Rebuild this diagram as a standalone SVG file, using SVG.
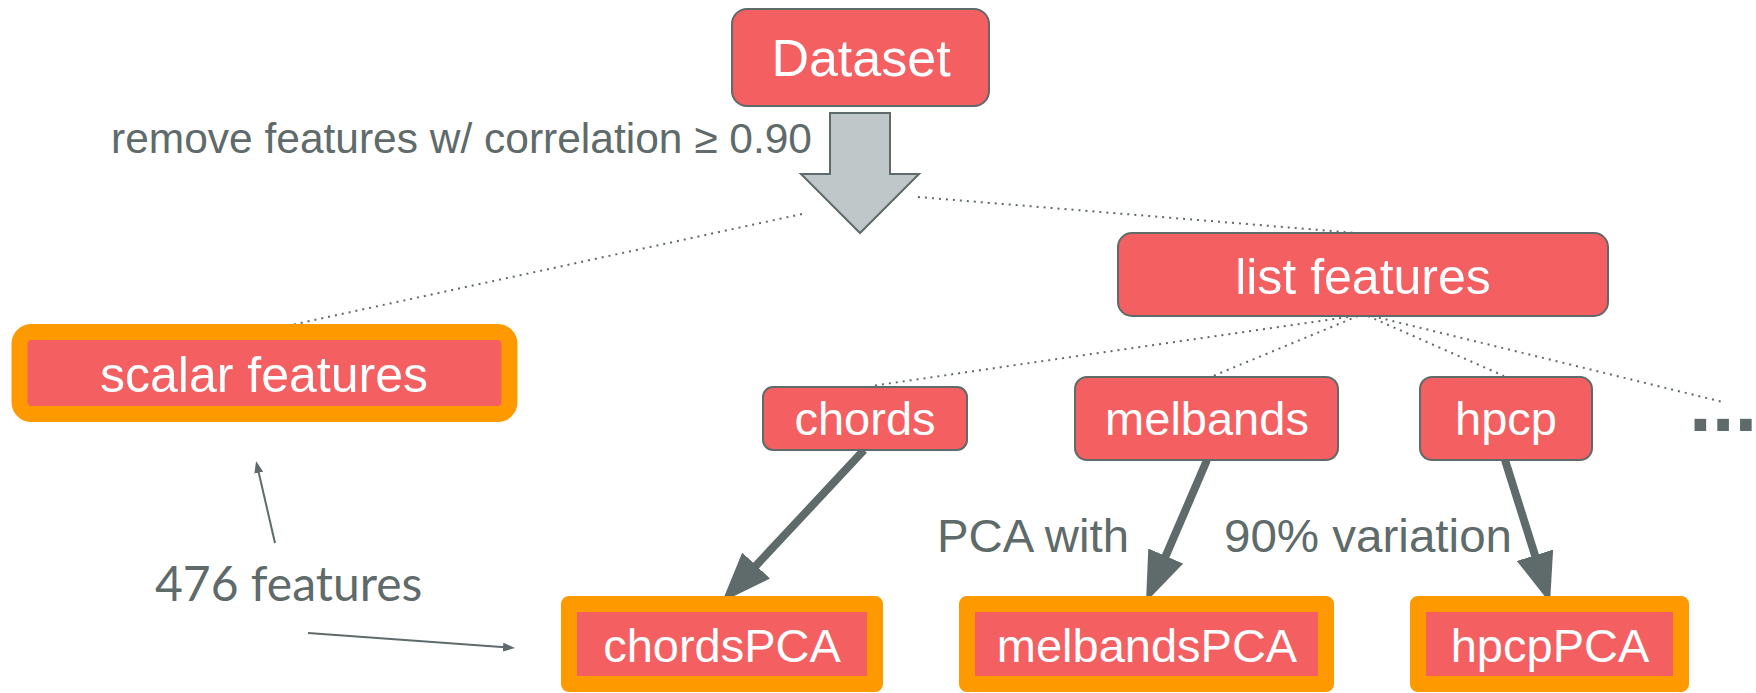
<svg xmlns="http://www.w3.org/2000/svg" width="1756" height="693" viewBox="0 0 1756 693">
<style>
.node{fill:#f45f61;stroke:#5f6a6a;stroke-width:2}
.hl{fill:#f45f61;stroke:#ff9900;stroke-width:16;stroke-linejoin:round}
.lbl{font-family:"Liberation Sans",Arial,sans-serif;fill:#ffffff;text-anchor:middle}
.note{font-family:"Liberation Sans",Arial,sans-serif;fill:#5f6a6a}
.dot{stroke:#5f6a6a;stroke-width:2;stroke-dasharray:2 5;fill:none}
.thick{stroke:#5f6a6a;stroke-width:8;fill:none;marker-end:url(#big)}
.thin{stroke:#5f6a6a;stroke-width:2;fill:none;marker-end:url(#small)}
</style>
<defs>
<marker id="big" markerUnits="userSpaceOnUse" markerWidth="50" markerHeight="38" viewBox="0 0 50 38" refX="10" refY="19" orient="auto"><path d="M0,0 L50,19 L0,38 Z" fill="#5f6a6a"/></marker>
<marker id="small" markerUnits="userSpaceOnUse" markerWidth="12" markerHeight="9" viewBox="0 0 12 9" refX="2" refY="4.5" orient="auto"><path d="M0,0 L12,4.5 L0,9 Z" fill="#5f6a6a"/></marker>
</defs>
<rect width="1756" height="693" fill="#ffffff"/>
<g id="connectors">
<line class="dot" x1="802" y1="214" x2="268" y2="330"/>
<line class="dot" x1="918" y1="197" x2="1356" y2="233"/>
<line class="dot" x1="1355" y1="316" x2="871" y2="386"/>
<line class="dot" x1="1358" y1="316" x2="1213" y2="376"/>
<line class="dot" x1="1368" y1="316" x2="1504" y2="376"/>
<line class="dot" x1="1372" y1="316" x2="1723" y2="402"/>
<path d="M830,113 L890,113 L890,174 L919,174 L860,233 L801,174 L830,174 Z" fill="#c0c7c9" stroke="#5f6a6a" stroke-width="2" stroke-linejoin="miter"/>
<line class="thick" x1="864" y1="450" x2="749.3" y2="572.8"/>
<line class="thick" x1="1207" y1="460" x2="1161.8" y2="565.2"/>
<line class="thick" x1="1505" y1="460" x2="1538" y2="564.8"/>
<line class="thin" x1="275" y1="543" x2="258.3" y2="470.7"/>
<line class="thin" x1="308" y1="633" x2="505" y2="647.3"/>
</g>
<g id="dataset">
<rect class="node" x="732" y="9" width="257" height="97" rx="15"/>
<text class="lbl" x="861" y="76" font-size="52">Dataset</text>
</g>
<g id="list-features">
<rect class="node" x="1118" y="233" width="490" height="83" rx="14"/>
<text class="lbl" x="1363" y="294" font-size="50">list features</text>
</g>
<g id="scalar-features">
<rect class="hl" x="19.5" y="332" width="490" height="82" rx="12"/>
<text class="lbl" x="264" y="392" font-size="50">scalar features</text>
</g>
<g id="chords">
<rect class="node" x="763" y="387" width="204" height="63" rx="10"/>
<text class="lbl" x="865" y="435" font-size="47">chords</text>
</g>
<g id="melbands">
<rect class="node" x="1075" y="377" width="263" height="83" rx="12"/>
<text class="lbl" x="1207" y="435" font-size="47">melbands</text>
</g>
<g id="hpcp">
<rect class="node" x="1420" y="377" width="172" height="83" rx="12"/>
<text class="lbl" x="1506" y="435" font-size="47">hpcp</text>
</g>
<g id="chordsPCA">
<rect class="hl" x="569" y="604" width="306" height="80"/>
<text class="lbl" x="722" y="662" font-size="47">chordsPCA</text>
</g>
<g id="melbandsPCA">
<rect class="hl" x="967" y="604" width="359" height="80"/>
<text class="lbl" x="1147" y="662" font-size="47">melbandsPCA</text>
</g>
<g id="hpcpPCA">
<rect class="hl" x="1418" y="604" width="263" height="80"/>
<text class="lbl" x="1550" y="662" font-size="47">hpcpPCA</text>
</g>
<g id="labels">
<text class="note" x="111" y="153" font-size="42" textLength="701" lengthAdjust="spacingAndGlyphs">remove features w/ correlation ≥ 0.90</text>
<text class="note" x="937" y="552" font-size="47" textLength="192" lengthAdjust="spacingAndGlyphs">PCA with</text>
<text class="note" x="1224" y="552" font-size="47" textLength="288" lengthAdjust="spacingAndGlyphs">90% variation</text>
<text class="note" x="155" y="601" font-size="48" style="font-family:Lato,sans-serif">476 features</text>
<text class="note" x="1689" y="431" font-size="82" font-weight="bold">...</text>
</g>
</svg>
